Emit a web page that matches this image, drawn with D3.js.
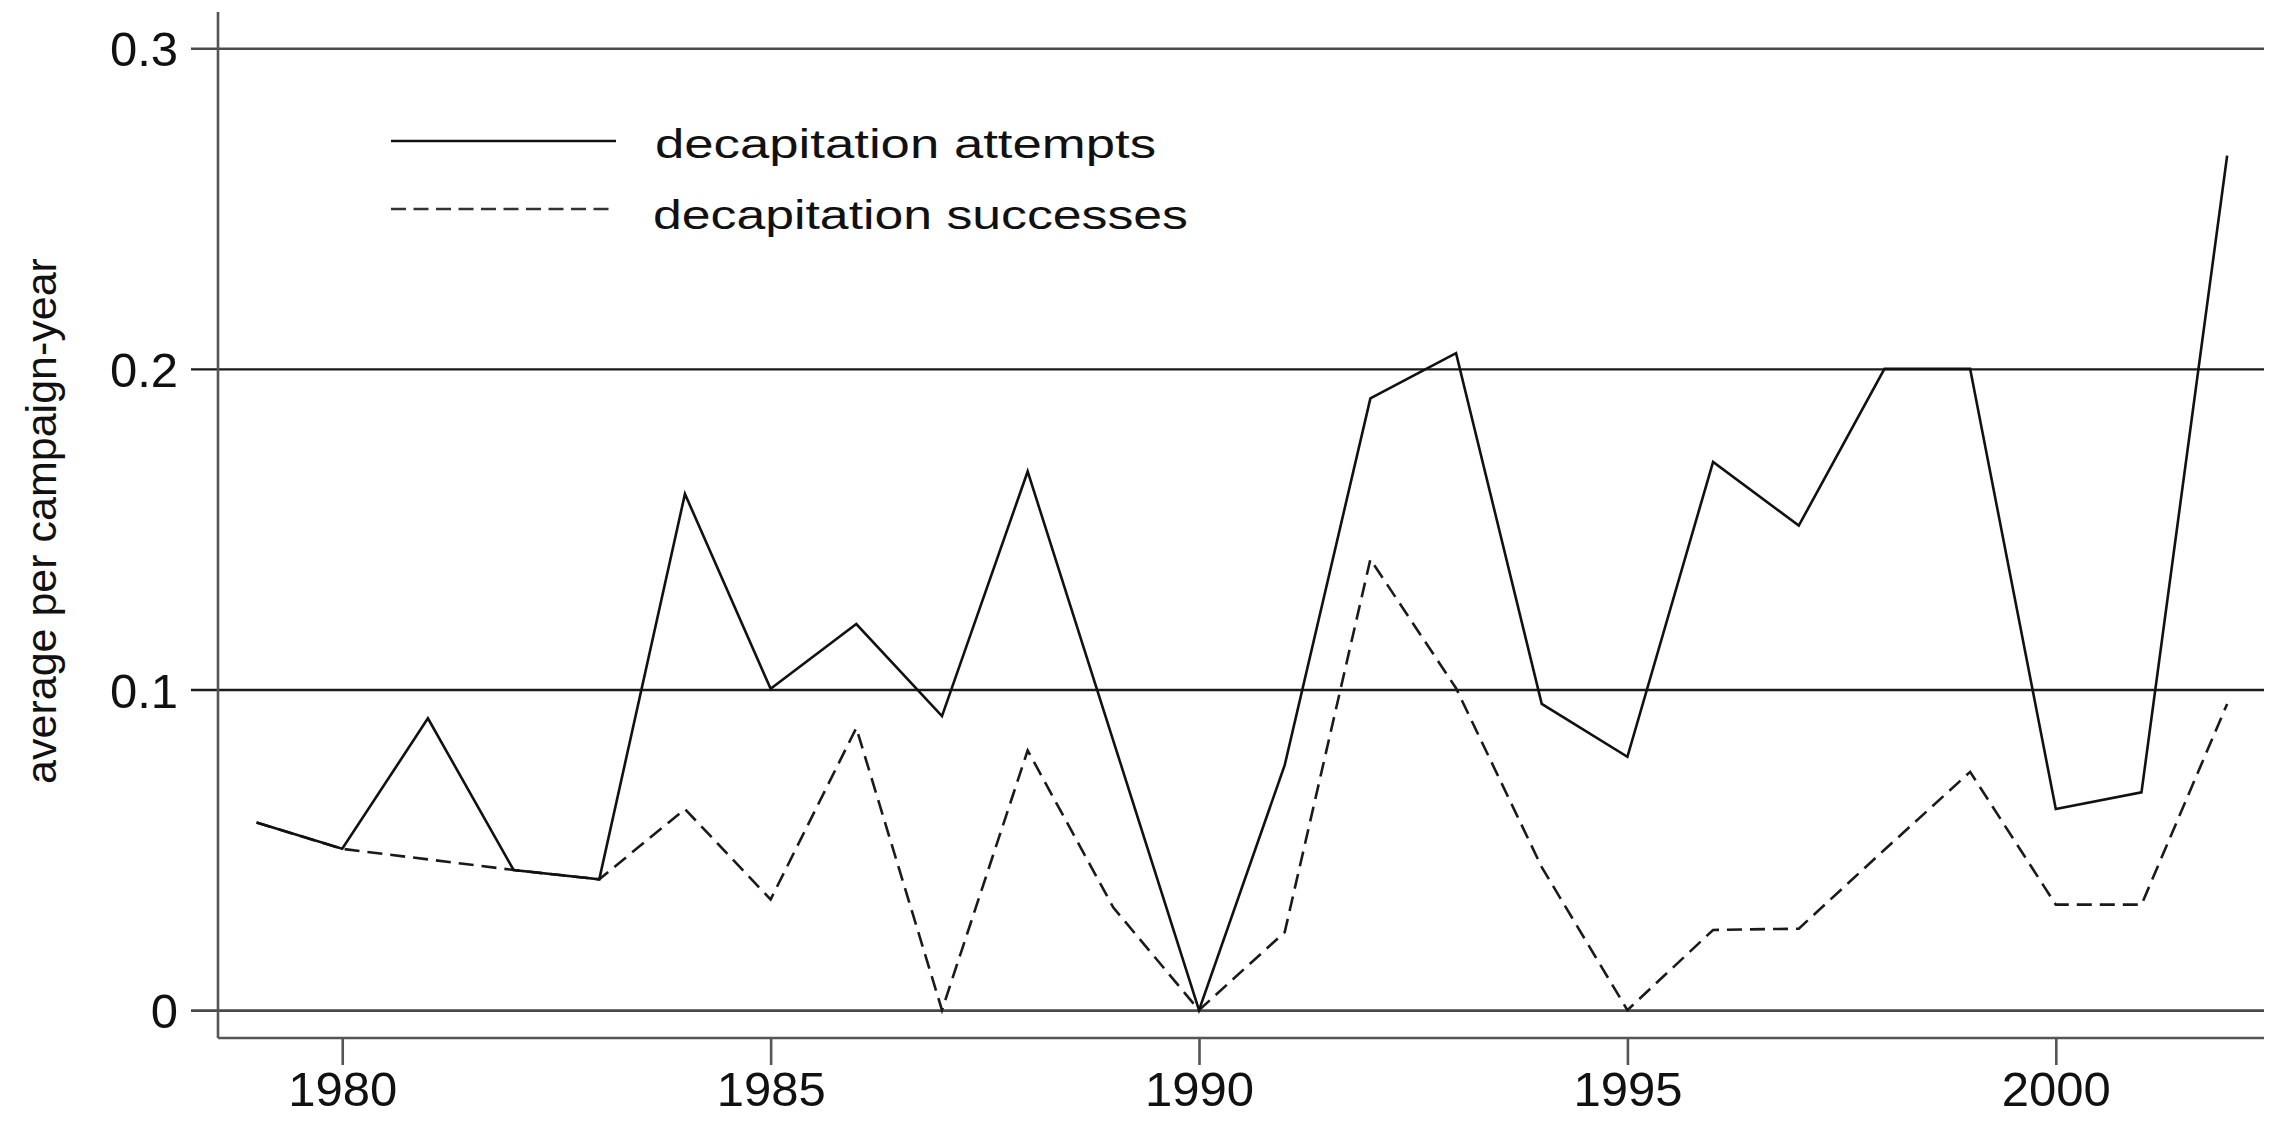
<!DOCTYPE html>
<html>
<head>
<meta charset="utf-8">
<script src="https://cdn.jsdelivr.net/npm/d3@7"></script>
<style>
  html, body { margin: 0; padding: 0; background: #fff; }
  svg { display: block; font-family: "Liberation Sans", Arial, Helvetica, sans-serif; }
</style>
</head>
<body>
<svg id="chart" width="2280" height="1125"></svg>
<script>
// ---- data ----
const years = [1979, 1980, 1981, 1982, 1983, 1984, 1985, 1986, 1987, 1988, 1989, 1990,
               1991, 1992, 1993, 1994, 1995, 1996, 1997, 1998, 1999, 2000, 2001, 2002];
const attempts = [0.0585, 0.0503, 0.0910, 0.0437, 0.0408, 0.1610, 0.1002, 0.1204, 0.0917, 0.1680, 0.0840, 0.0000,
                  0.0764, 0.1908, 0.2049, 0.0955, 0.0790, 0.1710, 0.1511, 0.2000, 0.2000, 0.0627, 0.0679, 0.2665];
const successes = [0.0585, 0.0503, 0.0470, 0.0437, 0.0408, 0.0627, 0.0345, 0.0880, 0.0000, 0.0810, 0.0320, 0.0000,
                   0.0243, 0.1406, 0.1004, 0.0446, 0.0000, 0.0250, 0.0254, 0.0500, 0.0743, 0.0329, 0.0329, 0.0955];
const xTicks = [1980, 1985, 1990, 1995, 2000];
const yTicks = [0, 0.1, 0.2, 0.3];
const yTickLabels = ["0", "0.1", "0.2", "0.3"];
const seriesNames = ["decapitation attempts", "decapitation successes"];
const yTitle = "average per campaign-year";

// ---- layout ----
const svg = d3.select("#chart");
const x = d3.scaleLinear().domain([1978.55, 2002.43]).range([218, 2264]);
const y = d3.scaleLinear().domain([-0.0087, 0.3113]).range([1038, 12]);

// horizontal gridlines (with tick extension to the left)
const yAxis = d3.axisLeft(y).tickValues(yTicks)
  .tickFormat((d, i) => yTickLabels[i])
  .tickSize(-(2264 - 218)).tickSizeOuter(0).tickPadding(0);
const gy = svg.append("g").attr("transform", "translate(218,0)").call(yAxis);
gy.select(".domain").remove();
gy.selectAll(".tick line")
  .attr("x1", -27)
  .attr("stroke", (d) => (d === 0 || d === 0.3) ? "#4a4a4a" : "#1a1a1a")
  .attr("stroke-width", (d) => (d === 0 || d === 0.3) ? 2.6 : 2.3);
gy.selectAll(".tick text")
  .attr("x", -40)
  .attr("dy", "0.36em")
  .attr("fill", "#111")
  .style("font-size", "49px")
  .style("font-family", "'Liberation Sans', Arial, sans-serif");

// y axis line
svg.append("line")
  .attr("x1", 218).attr("x2", 218).attr("y1", 12).attr("y2", 1038)
  .attr("stroke", "#555").attr("stroke-width", 2.6);

// x axis
const xAxis = d3.axisBottom(x).tickValues(xTicks).tickFormat(d3.format("d"))
  .tickSize(27).tickSizeOuter(0).tickPadding(6);
const gx = svg.append("g").attr("transform", "translate(0,1038)").call(xAxis);
gx.select(".domain").attr("stroke", "#555").attr("stroke-width", 2.6)
  .attr("d", "M218,0H2264");
gx.selectAll(".tick line").attr("stroke", "#555").attr("stroke-width", 2.6);
gx.selectAll(".tick text")
  .attr("fill", "#111")
  .attr("dy", "0.72em")
  .style("font-size", "49px")
  .style("font-family", "'Liberation Sans', Arial, sans-serif");

// y title
svg.append("text")
  .attr("transform", "translate(56,521) rotate(-90)")
  .attr("text-anchor", "middle")
  .attr("fill", "#111")
  .style("font-size", "43px")
  .text(yTitle);

// lines
const line = d3.line().x((d) => x(d[0])).y((d) => y(d[1]));
const plot = svg.append("g");
plot.append("path")
  .datum(years.map((yr, i) => [yr, successes[i]]))
  .attr("d", line)
  .attr("fill", "none")
  .attr("stroke", "#1a1a1a")
  .attr("stroke-width", 2.6)
  .attr("stroke-dasharray", "15,8");
plot.append("path")
  .datum(years.map((yr, i) => [yr, attempts[i]]))
  .attr("d", line)
  .attr("fill", "none")
  .attr("stroke", "#111")
  .attr("stroke-width", 2.6)
  .attr("stroke-linejoin", "miter");

// legend
const legend = svg.append("g");
legend.append("line")
  .attr("x1", 391).attr("x2", 616).attr("y1", 141).attr("y2", 141)
  .attr("stroke", "#111").attr("stroke-width", 2.6);
legend.append("line")
  .attr("x1", 391).attr("x2", 614).attr("y1", 209).attr("y2", 209)
  .attr("stroke", "#333").attr("stroke-width", 2.6)
  .attr("stroke-dasharray", "15,7.5");
legend.append("text")
  .attr("x", 655).attr("y", 158)
  .attr("fill", "#111")
  .style("font-size", "40px")
  .attr("textLength", 501).attr("lengthAdjust", "spacingAndGlyphs")
  .text(seriesNames[0]);
legend.append("text")
  .attr("x", 653).attr("y", 229)
  .attr("fill", "#111")
  .style("font-size", "40px")
  .attr("textLength", 535).attr("lengthAdjust", "spacingAndGlyphs")
  .text(seriesNames[1]);
</script>
</body>
</html>
